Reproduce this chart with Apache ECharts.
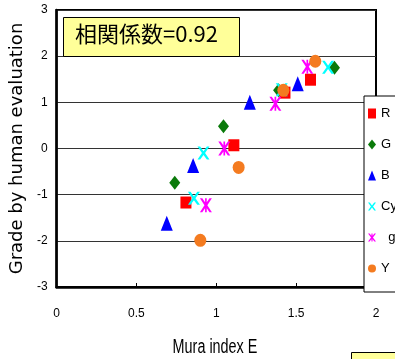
<!DOCTYPE html>
<html>
<head>
<meta charset="utf-8">
<script src="https://cdn.jsdelivr.net/npm/echarts@6/dist/echarts.min.js"></script>
<style>html,body{margin:0;padding:0;background:#fff;}#c{width:395px;height:359px;}</style>
</head>
<body>
<div id="c"></div>
<script>
const seriesNames = ['R', 'G', 'B', 'Cy', '  g', 'Y'];
const dataR = [[0.81, -1.17], [1.11, 0.07], [1.43, 1.21], [1.59, 1.49]];
const dataG = [[0.74, -0.74], [1.045, 0.48], [1.39, 1.26], [1.74, 1.75]];
const dataB = [[0.69, -1.62], [0.855, -0.37], [1.21, 1.0], [1.51, 1.40]];
const dataCy = [[0.86, -1.08], [0.92, -0.10], [1.41, 1.27], [1.70, 1.76]];
const dataMg = [[0.935, -1.23], [1.05, 0.0], [1.37, 0.97], [1.57, 1.77]];
const dataY = [[0.90, -1.99], [1.14, -0.41], [1.42, 1.26], [1.62, 1.89]];
const xTicks = ['0', '0.5', '1', '1.5', '2'];
const yTicks = ['-3', '-2', '-1', '0', '1', '2', '3'];
const xTitle = 'Mura index E';
const yTitle = 'Grade by human evaluation';
const corrText = '相関係数=0.92';

const sans = "'Liberation Sans',Arial,sans-serif";
const xPath = 'path://M0,0 L2.2,0 L5,3.6 L7.8,0 L10,0 L6.3,5 L10,10 L7.8,10 L5,6.4 L2.2,10 L0,10 L3.7,5 Z';
const starPath = 'path://M0,0 L2,0 L5,3.8 L8,0 L10,0 L6.2,5 L10,10 L8,10 L5,6.2 L2,10 L0,10 L3.8,5 Z M4.3,0 L5.7,0 L5.7,10 L4.3,10 Z';

const seriesData = [dataR, dataG, dataB, dataCy, dataMg, dataY];
const colors = ['#FF0000', '#0A7A0A', '#0000FF', '#00FFFF', '#FF00FF', '#F47B20'];
const symbols = ['rect', 'diamond', 'triangle', xPath, starPath, 'circle'];
const sizes = [[11, 12], [11, 14], [12, 15], [12, 13], [12, 14], [12, 13]];

const chart = echarts.init(document.getElementById('c'), null, {renderer: 'canvas'});
chart.setOption({
  backgroundColor: '#fff',
  animation: false,
  grid: {left: 53, top: 10, width: 323, height: 277, show: true, borderColor: '#000', borderWidth: 2, backgroundColor: '#fff'},
  xAxis: {
    type: 'value', min: 0, max: 2, interval: 0.5,
    axisLine: {show: true, onZero: false, lineStyle: {color: '#000', width: 2.5}},
    axisTick: {show: true, inside: true, length: 4, lineStyle: {color: '#000', width: 1}},
    axisLabel: {margin: 21, fontFamily: sans, fontSize: 12, color: '#000',
      formatter: (v) => xTicks[Math.round(v / 0.5)]},
    splitLine: {show: false}
  },
  yAxis: {
    type: 'value', min: -3, max: 3, interval: 1,
    name: yTitle, nameLocation: 'middle', nameGap: 28,
    nameTextStyle: {fontFamily: "'DejaVu Sans',sans-serif", fontSize: 18, color: '#000'},
    axisLine: {show: true, onZero: false, lineStyle: {color: '#000', width: 2.5}},
    axisTick: {show: false},
    axisLabel: {margin: 9, fontFamily: sans, fontSize: 12, color: '#000',
      formatter: (v) => yTicks[Math.round(v + 3)]},
    splitLine: {show: true, lineStyle: {color: '#333', width: 1}}
  },
  legend: {
    orient: 'vertical', left: 364, top: 96,
    data: seriesNames,
    itemWidth: 8, itemHeight: 10, itemGap: 18, itemTextGap: 5,
    padding: [11, 30, 17, 4],
    borderColor: '#000', borderWidth: 1, backgroundColor: '#fff',
    textStyle: {fontFamily: sans, fontSize: 13, color: '#000'}
  },
  series: seriesNames.map((n, i) => ({
    name: n, type: 'scatter', data: seriesData[i],
    symbol: symbols[i], symbolSize: sizes[i],
    itemStyle: {color: colors[i], opacity: 1}
  })),
  graphic: [
    {type: 'rect', z: 100, shape: {x: 63.5, y: 17.5, width: 176, height: 39},
     style: {fill: '#FFFF99', stroke: '#000', lineWidth: 1}},
    {type: 'text', z: 101, x: 75, y: 23,
     style: {text: corrText, font: "22px 'Noto Sans CJK JP',sans-serif", fill: '#000'}},
    {type: 'text', z: 101, x: 215, y: 347, scaleX: 0.72,
     style: {text: xTitle, font: "20px 'Liberation Sans',Arial,sans-serif", fill: '#000', align: 'center', verticalAlign: 'middle'}},
    {type: 'rect', z: 100, shape: {x: 351.5, y: 352.5, width: 60, height: 20},
     style: {fill: '#FFFF99', stroke: '#000', lineWidth: 1}}
  ]
});
</script>
</body>
</html>
